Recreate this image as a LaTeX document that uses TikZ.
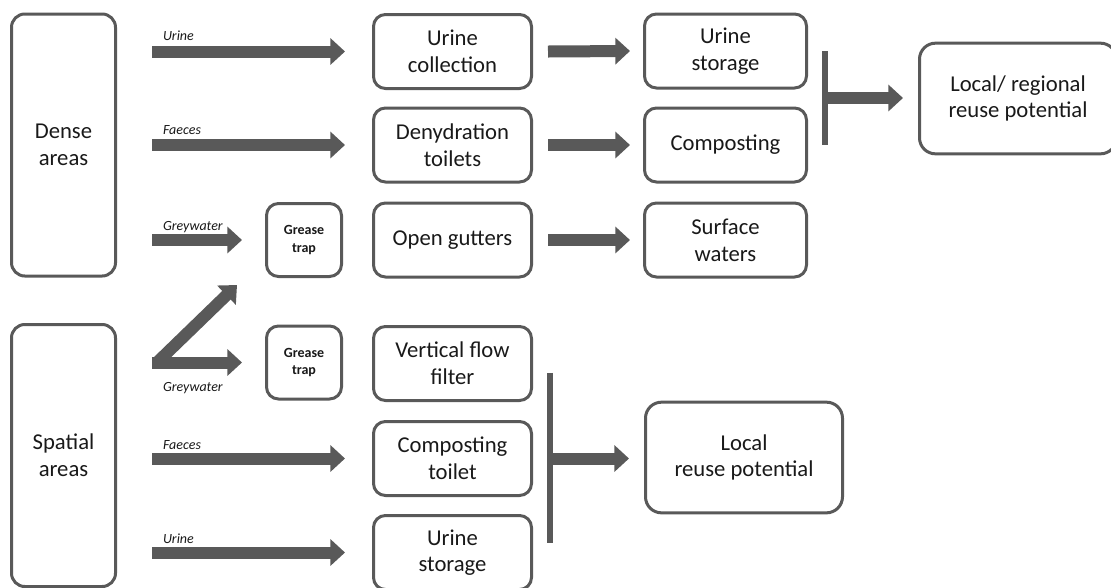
\documentclass[tikz,border=0pt]{standalone}
\usepackage{fontspec}
\setmainfont{Carlito}
\usepackage{tikz}
\usetikzlibrary{arrows.meta, positioning, calc}
\definecolor{flowgray}{RGB}{89,89,89}
\definecolor{textdark}{RGB}{25,25,25}
\tikzset{
  areabox/.style={rectangle, draw=flowgray, line width=2.25pt, rounded corners=10pt,
    minimum width=78pt, minimum height=196.5pt, align=center,
    font=\fontsize{17}{20}\selectfont, text=textdark},
  stagebox/.style={rectangle, draw=flowgray, line width=2.25pt, rounded corners=9pt,
    minimum width=118.5pt, minimum height=55.5pt, align=center,
    font=\fontsize{17}{20}\selectfont, text=textdark},
  outbox/.style={stagebox, minimum width=121.5pt},
  trapbox/.style={rectangle, draw=flowgray, line width=2.25pt, rounded corners=9pt,
    minimum width=56.25pt, minimum height=54.75pt, align=center,
    font=\fontsize{10.5}{13}\selectfont\bfseries, text=textdark},
  reusebox/.style={rectangle, draw=flowgray, line width=2.25pt, rounded corners=12pt,
    minimum width=147.75pt, minimum height=83pt, align=center,
    font=\fontsize{17}{20}\selectfont, text=textdark},
  flow/.style={line width=9pt, color=flowgray, -{Triangle[length=11pt, width=19.5pt]}},
  bar/.style={line width=4.5pt, color=flowgray},
  flowlabel/.style={font=\fontsize{10.5}{12}\selectfont\itshape, text=textdark, inner sep=0pt}
}
\begin{document}
\begin{tikzpicture}[x=0.75pt, y=-0.75pt]
  \clip (0,0) rectangle (1111,587);
  % Source areas
  \node[areabox] (dense) at (63.5,145) {Dense\\areas};
  \node[areabox] (spatial) at (63.5,455.5) {Spatial\\areas};

  % Treatment steps
  \node[stagebox] (ucoll) at (452.5,51.5) {Urine\\collection};
  \node[stagebox] (dehyd) at (452.5,145) {Denydration\\toilets};
  \node[stagebox] (gutter) at (452.5,240) {Open gutters};
  \node[stagebox] (vflow) at (452.5,363.5) {Vertical flow\\filter};
  \node[stagebox] (ctoilet) at (452.5,458.5) {Composting\\toilet};
  \node[stagebox] (ustoreS) at (452.5,552.5) {Urine\\storage};
  \node[trapbox] (trapD) at (304,240) {Grease\\trap};
  \node[trapbox] (trapS) at (304,362.5) {Grease\\trap};

  % Outputs
  \node[outbox] (ustore) at (725.5,51) {Urine\\storage};
  \node[outbox] (compost) at (725.5,145) {Composting};
  \node[outbox] (surface) at (725.5,240) {Surface\\waters};
  \node[reusebox] (regional) at (1018,98.5) {Local/ regional\\reuse potential};
  \node[reusebox] (local) at (744,457.5) {Local\\reuse potential};

  % Dense areas flows
  \draw[flow] ([xshift=26.25pt]dense.east |- ucoll.west) -- ([xshift=-20.25pt]ucoll.west)
    node[flowlabel, pos=0, anchor=base west, xshift=3.75pt, yshift=8pt] (lurineD) {Urine};
  \draw[flow] ([xshift=26.25pt]dense.east |- dehyd.west) -- ([xshift=-20.25pt]dehyd.west)
    node[flowlabel, pos=0, anchor=base west, xshift=3.75pt, yshift=8pt] (lfaecesD) {Faeces};
  \draw[flow] ([xshift=26.25pt]dense.east |- trapD.west) -- ([xshift=-17.25pt]trapD.west)
    node[flowlabel, pos=0, anchor=base west, xshift=3.75pt, yshift=7.5pt] (lgreyD) {Greywater};
  \draw[flow] ([xshift=11.25pt]ucoll.east) -- ([xshift=-9.75pt]ustore.west);
  \draw[flow] ([xshift=11.25pt]dehyd.east) -- ([xshift=-9.75pt]compost.west);
  \draw[flow] ([xshift=11.25pt]gutter.east) -- ([xshift=-9.75pt]surface.west);
  \draw[bar] ([xshift=12.75pt]ustore.east) -- ([xshift=12.75pt]compost.east) coordinate[midway] (joinR);
  \draw[flow] (joinR) -- ([xshift=-11.25pt]regional.west |- joinR);

  % Spatial areas flows
  \coordinate (gwup) at ([xshift=-21pt,yshift=-5.25pt]trapD.south west);
  \draw[flow] ([xshift=30pt]spatial.east |- trapS.west) -- (gwup);
  \draw[flow] ([xshift=26.25pt]spatial.east |- trapS.west) -- ([xshift=-17.25pt]trapS.west)
    node[flowlabel, pos=0, anchor=base west, xshift=3.75pt, yshift=-22pt] (lgreyS) {Greywater};
  \draw[flow] ([xshift=26.25pt]spatial.east |- ctoilet.west) -- ([xshift=-20.25pt]ctoilet.west)
    node[flowlabel, pos=0, anchor=base west, xshift=3.75pt, yshift=7pt] (lfaecesS) {Faeces};
  \draw[flow] ([xshift=26.25pt]spatial.east |- ustoreS.west) -- ([xshift=-20.25pt]ustoreS.west)
    node[flowlabel, pos=0, anchor=base west, xshift=3.75pt, yshift=7pt] (lurineS) {Urine};
  \draw[bar] ([xshift=12.75pt,yshift=-7pt]vflow.east) -- ([xshift=12.75pt,yshift=7pt]ustoreS.east);
  \draw[flow] ([xshift=12.75pt]ctoilet.east) -- ([xshift=-11.25pt]local.west |- ctoilet.east);
\end{tikzpicture}
\end{document}
